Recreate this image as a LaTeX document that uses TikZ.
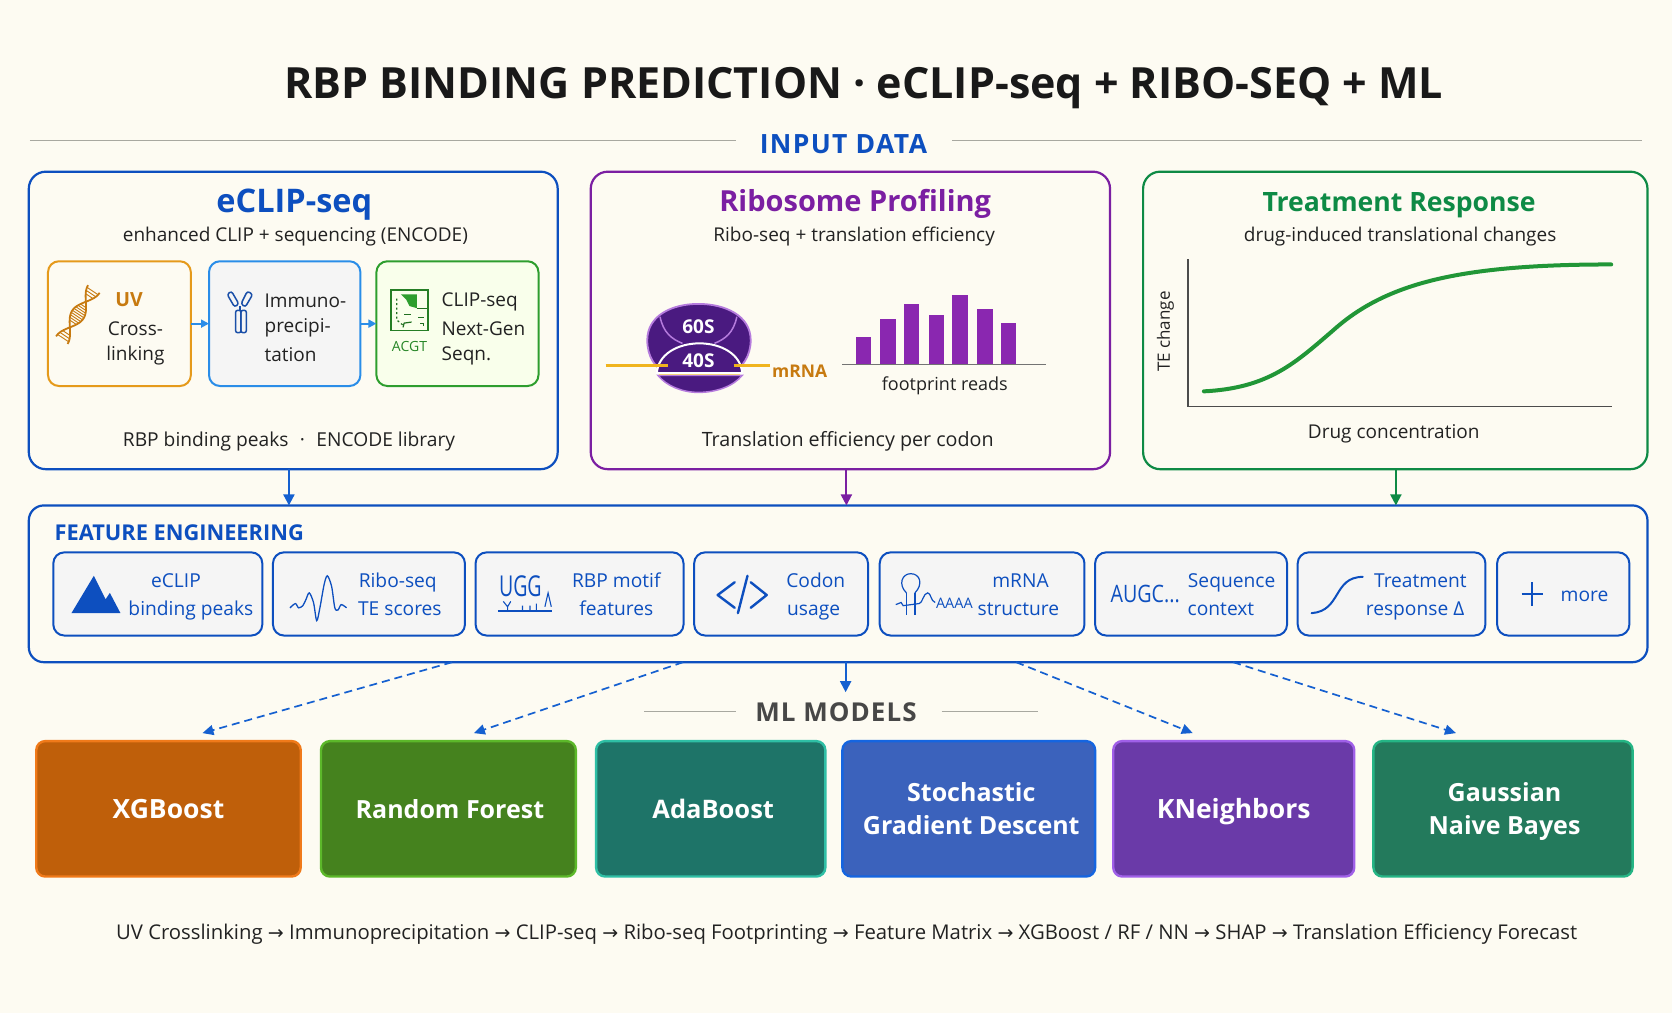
\documentclass[tikz,border=0pt]{standalone}
\usepackage{fontspec}
\setmainfont{Open Sans}
\newfontfamily\djv{DejaVu Sans}
\usetikzlibrary{arrows.meta,calc}
\definecolor{bg}{HTML}{FDFBF2}
\definecolor{ink}{HTML}{222222}
\definecolor{rule}{HTML}{A8A8A0}
\definecolor{blu}{HTML}{0D4FBF}
\definecolor{dblu}{HTML}{1560D0}
\definecolor{lblu}{HTML}{2A8DE8}
\definecolor{pur}{HTML}{7B1FA2}
\definecolor{bar}{HTML}{8A27B0}
\definecolor{dpur}{HTML}{4A1A80}
\definecolor{lpur}{HTML}{B57BDD}
\definecolor{grn}{HTML}{0E8A45}
\definecolor{org}{HTML}{C77A10}
\definecolor{uvb}{HTML}{E59A1B}
\definecolor{gold}{HTML}{F0B41E}
\definecolor{lgrn}{HTML}{2E9E2E}
\newcommand\fs[1]{\fontsize{#1}{#1}\selectfont}
\newcommand\bx[7]{%
  \pgfmathsetmacro\bxw{(#5-#3)*1.0663}%
  \pgfmathsetmacro\bxh{(#6-#4)*1.0663}%
  \node[#2,minimum width=\bxw pt,minimum height=\bxh pt,inner sep=0pt,outer sep=0pt,align=center] (#1) at ({(#3+#5)/2},{(#4+#6)/2}) {#7};}
\tikzset{
  panel/.style={draw=#1,line width=2.2pt,rounded corners=17pt,fill=bg},
  inner/.style={line width=2pt,rounded corners=11pt},
  chip/.style={draw=blu,line width=2pt,rounded corners=11pt,fill=black!4!white},
  model/.style={line width=2.4pt,rounded corners=9pt,text=white,font=\fs{25.5}\bfseries},
  txt/.style={font=\fs{19},text=ink,inner sep=0pt,align=center},
  ctxt/.style={font=\fs{19.2},text=blu,inner sep=0pt,align=center},
  flow/.style={line width=2pt,-{Triangle[length=11pt,width=11pt]}},
  dash flow/.style={line width=1.7pt,draw=dblu,dash pattern=on 8pt off 5pt,-{Triangle[length=11pt,width=10pt]}},
  icon/.style={line width=1.6pt,line cap=round,line join=round},
}
\begin{document}
\begin{tikzpicture}[x=1.0663pt,y=-1.0663pt]
\useasboundingbox (0,0) rectangle (1568,950);
\fill[bg] (0,0) rectangle (1568,950);
% title
\node[font=\fs{43}\bfseries,text=black!90,inner sep=0pt] (title) at (810,83) {RBP BINDING PREDICTION · eCLIP-seq + RIBO-SEQ + ML};
\node[font=\fs{26.5}\bfseries\addfontfeature{LetterSpace=5},text=blu,inner sep=0pt] (inp) at (791,135) {INPUT DATA};
\coordinate (rl1) at (28,132); \coordinate (rr1) at (1540,132); \coordinate (rl2) at (690,132); \coordinate (rr2) at (893,132);
\draw[rule,line width=1.3pt] (rl1) -- (rl2);
\draw[rule,line width=1.3pt] (rr2) -- (rr1);
% panels
\bx{ecl}{panel=blu}{27}{161}{523}{440}{}
\bx{rib}{panel=pur}{554}{161}{1041}{440}{}
\bx{trt}{panel=grn}{1072}{161}{1545}{440}{}
\node[font=\fs{32.5}\bfseries,inner sep=0pt,text=blu] (ecltitle) at (276,192) {eCLIP-seq};
\node[txt] (eclsub) at (277,222) {enhanced CLIP + sequencing (ENCODE)};
\node[font=\fs{29}\bfseries,inner sep=0pt,text=pur] (ribtitle) at (802,191) {Ribosome Profiling};
\node[txt] (ribsub) at (801,222) {Ribo-seq + translation efficiency};
\node[font=\fs{26.6}\bfseries,inner sep=0pt,text=grn] (trttitle) at (1312,192) {Treatment Response};
\node[txt] (trtsub) at (1313,222) {drug-induced translational changes};
% inner eCLIP
\bx{uv}{inner,draw=uvb,fill=bg}{45}{245}{179}{362}{}
\bx{ip}{inner,draw=lblu,fill=black!4!white}{196}{245}{338}{362}{}
\bx{cs}{inner,draw=lgrn,fill=green!30!yellow!8!white}{353}{245}{505}{362}{}
\draw[flow,lblu,line width=1.8pt,-{Triangle[length=8pt,width=8pt]}] (uv.east) -- (ip.west);
\draw[flow,lblu,line width=1.8pt,-{Triangle[length=8pt,width=8pt]}] (ip.east) -- (cs.west);
\node[font=\fs{19.5}\bfseries,text=org,inner sep=0pt] (uvt) at (121,281) {UV};
\node[txt] (uvb) at (127,308) {Cross-};
\node[txt] (uvc) at (127,333) {linking};
\node[txt,anchor=west] (ip1) at (248,282) {Immuno-};
\node[txt,anchor=west] (ip2) at (248,307) {precipi-};
\node[txt,anchor=west] (ip3) at (248,333) {tation};
\node[txt,anchor=west] (cs1) at (414,283) {CLIP-seq};
\node[txt,anchor=west] (cs2) at (414,308) {Next-Gen};
\node[txt,anchor=west] (cs3) at (414,334) {Seqn.};
\node[font=\fs{14},text=lgrn!85!black,inner sep=0pt] (acgt) at (384,325) {ACGT};
% DNA icon
\draw[org,line width=1.8pt,smooth] plot[domain=-1:1,samples=40] ({73+15*\x+6.5*cos(\x*180)*0.83},{295-24*\x+6.5*cos(\x*180)*0.55});
\draw[org,line width=1.8pt,smooth] plot[domain=-1:1,samples=40] ({73+15*\x-6.5*cos(\x*180)*0.83},{295-24*\x-6.5*cos(\x*180)*0.55});
\foreach \t in {-0.92,-0.82,-0.72,-0.3,-0.22,-0.14,-0.06,0.02,0.1,0.18,0.26,0.34,0.72,0.82,0.92}
  \draw[org,line width=0.9pt] ({73+15*\t+6.5*cos(\t*180)*0.83},{295-24*\t+6.5*cos(\t*180)*0.55}) -- ({73+15*\t-6.5*cos(\t*180)*0.83},{295-24*\t-6.5*cos(\t*180)*0.55});
% antibody icon
\definecolor{abc}{HTML}{1A4FA8}
\draw[abc,line width=1.5pt,rounded corners=2.5pt] (213,276) -- (217,273) -- (224,285) -- (220,288) -- cycle;
\draw[abc,line width=1.5pt,rounded corners=2.5pt] (232,273) -- (237,276) -- (230,288) -- (226,285) -- cycle;
\draw[abc,line width=1.5pt,rounded corners=2pt] (221,291) rectangle (226,312);
\draw[abc,line width=1.5pt,rounded corners=2pt] (226,291) rectangle (231,312);
\draw[abc,line width=1.5pt] (225,287) -- (225,291);
% chip icon
\draw[lgrn!80!black,line width=1.8pt] (367,272) rectangle (401,310);
\fill[lgrn] (376,276) -- (391,276) -- (391,289) -- (384,287) -- (381,281) -- cycle;
\draw[lgrn!70!black,line width=1.2pt] (391,289) -- (400,289);
\draw[lgrn!70!black,line width=1.2pt,dash pattern=on 2pt off 2.5pt] (372,280) -- (372,300) -- (378,305);
\draw[lgrn!70!black,line width=1.2pt] (386,302) -- (379,303) -- (378,307);
\draw[lgrn!70!black,line width=1.2pt] (392,298) -- (398,298) (394,303) -- (397,303) -- (397,306) (379,295) -- (385,295);
% ribosome
\fill[dpur,draw=lpur,line width=1.8pt] (607,319) .. controls (607,296) and (630,285) .. (655,285) .. controls (680,285) and (704,296) .. (704,319) .. controls (704,334) and (696,345) .. (686,350) -- (625,350) .. controls (614,345) and (607,334) .. (607,319) -- cycle;
\draw[lpur,line width=1.5pt] (619,297) .. controls (622,312) and (630,318) .. (640,322);
\draw[lpur,line width=1.5pt] (691,297) .. controls (688,312) and (680,318) .. (670,322);
\fill[dpur,draw=lpur,line width=1.5pt] (617,352) .. controls (625,362) and (640,368) .. (655,368) .. controls (672,368) and (688,362) .. (696,352) -- cycle;
\fill[dpur,draw=white,line width=2pt] (616,350) .. controls (617,332) and (636,322) .. (656,322) .. controls (676,322) and (695,332) .. (696,350) -- cycle;
\draw[gold!60!white,line width=1.4pt] (618,351) -- (694,351);
\coordinate (m1) at (568,342.7); \coordinate (m2) at (626,342.7); \coordinate (m3) at (688,342.7); \coordinate (m4) at (722,342.7);
\draw[gold,line width=3.4pt] (m1) -- (m2);
\draw[gold,line width=3.4pt] (m3) -- (m4);
\node[font=\fs{19}\bfseries,text=white,inner sep=0pt] (s60) at (655,306) {60S};
\node[font=\fs{19}\bfseries,text=white,inner sep=0pt] (s40) at (655,338) {40S};
\node[font=\fs{17.5}\bfseries,text=org,inner sep=0pt] (mrna) at (750,348) {mRNA};
% bars
\foreach \a/\b/\t in {803/817/316,825/840/299,848/862/285,871/885/295,893/908/277,916/931/290,939/953/303}
  \fill[bar] (\a,\t) rectangle (\b,342);
\draw[black!55,line width=1.4pt] (790,342) -- (981,342);
\node[txt,font=\fs{18}] (fpr) at (886,362) {footprint reads};
\node[txt,font=\fs{19.7}] (tepc) at (795,414) {Translation efficiency per codon};
\node[txt,font=\fs{19.2}] (peaks) at (271,414) {RBP binding peaks\,\, ·\,\, ENCODE library};
% treatment plot
\draw[black!70,line width=1.4pt] (1114,243) -- (1114,381) -- (1512,381);
\draw[line width=4pt,line cap=round,draw=lgrn!60!grn] (1129,367) .. controls (1190,364) and (1215,340) .. (1250,310) .. controls (1300,265) and (1370,248) .. (1511,248);
\node[txt,rotate=90,font=\fs{17}] (tey) at (1093,311) {TE change};
\node[txt] (drug) at (1307,407) {Drug concentration};
% feature engineering
\bx{feat}{draw=blu,line width=2.2pt,rounded corners=15pt,fill=bg}{27}{474}{1545}{621}{}
\node[font=\fs{21.8}\bfseries,text=blu,inner sep=0pt,anchor=west] (ft) at (51,500) {FEATURE ENGINEERING};
\draw[flow,dblu] ([xshift=-4.3pt]ecl.south) -- ([xshift=-4.3pt]ecl.south |- feat.north);
\draw[flow,pur] ([xshift=-4pt]rib.south) -- ([xshift=-4pt]rib.south |- feat.north);
\draw[flow,grn] ([xshift=0.6pt]trt.south) -- ([xshift=0.6pt]trt.south |- feat.north);
\bx{c1}{chip}{50}{518}{246}{596}{}
\bx{c2}{chip}{256}{518}{436}{596}{}
\bx{c3}{chip}{446}{518}{641}{596}{}
\bx{c4}{chip}{651}{518}{814}{596}{}
\bx{c5}{chip}{825}{518}{1017}{596}{}
\bx{c6}{chip}{1027}{518}{1207}{596}{}
\bx{c7}{chip}{1217}{518}{1393}{596}{}
\bx{c8}{chip}{1404}{518}{1528}{596}{}
\tikzset{la/.style={ctxt,anchor=base},lb/.style={ctxt,anchor=base}}
\node[la] (t1a) at (165,551) {eCLIP};
\node[lb] (t1b) at (179,577) {binding peaks};
\node[la] (t2a) at (373,551) {Ribo-seq};
\node[lb] (t2b) at (375,577) {TE scores};
\node[la] (t3a) at (578,551) {RBP motif};
\node[lb] (t3b) at (578,577) {features};
\node[la] (t4a) at (765,551) {Codon};
\node[lb] (t4b) at (763,577) {usage};
\node[la] (t5a) at (957,551) {mRNA};
\node[lb] (t5b) at (955,577) {structure};
\node[la] (t6a) at (1155,551) {Sequence};
\node[lb] (t6b) at (1145,577) {context};
\node[la] (t7a) at (1332,551) {Treatment};
\node[lb] (t7b) at (1327,577) {response Δ};
\node[la] (t8) at (1486,564) {more};
% chip icons
\fill[blu] (67,575) -- (88,540) -- (99,562) -- (103,556) -- (113,575) -- cycle;
\draw[blu,line width=1.3pt,smooth] plot coordinates {(272,570)(277,566)(280,570)(284,568)(287,562)(290,556)(294,565)(297,582)(300,570)(304,548)(307,540)(311,550)(314,570)(317,572)(320,567)(325,570)};
\node[font=\fs{23},text=blu,inner sep=0pt,xscale=0.85,yscale=1.25] (ugg) at (488,550) {UGG};
\draw[blu,line width=1.4pt] (467,573) -- (518,573);
\draw[blu,line width=1.1pt] (511,569) -- (514,556) -- (517,569);
\draw[blu,line width=1.1pt] (472,564) -- (476,569) -- (479,564) (476,569) -- (476,572) (490,568) -- (490,572) (497,568) -- (497,572) (503,566) -- (503,572);
\draw[blu,icon,line width=2.4pt] (689,546) -- (673,558) -- (689,570) (704,546) -- (719,558) -- (704,570) (701,540) -- (692,575);
\draw[blu,line width=1.2pt] (850,556) .. controls (842,548) and (846,538) .. (854,538) .. controls (863,538) and (866,548) .. (858,556);
\draw[blu,line width=1.2pt] (850,556) -- (850,577) (858,556) -- (858,577);
\draw[blu,line width=1.2pt] (840,567) -- (845,565) -- (847,568) -- (862,566) .. controls (865,566) and (866,556) .. (870,556) .. controls (873,556) and (873,564) .. (877,565);
\node[font=\fs{14.5},text=blu,inner sep=0pt] (aaaa) at (895,566) {AAAA};
\node[font=\fs{24},text=blu,inner sep=0pt,xscale=0.82] (augc) at (1074,557) {AUGC...};
\draw[blu,line width=2pt,line cap=round] (1230,575) .. controls (1258,573) and (1250,541) .. (1278,541);
\draw[blu,line width=2.2pt] (1437,546) -- (1437,568) (1427,557) -- (1447,557);
% ML models
\node[font=\fs{26}\bfseries\addfontfeature{LetterSpace=4},text=black!72,inner sep=0pt] (mlm) at (784,668) {ML MODELS};
\draw[rule,line width=1.3pt] (604,667) -- (690,667);
\draw[rule,line width=1.3pt] (883,667) -- (973,667);
\definecolor{c1a}{HTML}{BF5F0A}\definecolor{c1b}{HTML}{F07A1A}
\bx{m1}{model,draw=c1b,fill=c1a,font=\fs{26.5}\bfseries}{34}{695}{282}{822}{XGBoost}
\definecolor{c2a}{HTML}{45821E}\definecolor{c2b}{HTML}{5CB82A}
\bx{m2}{model,draw=c2b,fill=c2a,font=\fs{25}\bfseries}{301}{695}{540}{822}{\hspace*{3pt}Random Forest}
\definecolor{c3a}{HTML}{1E7468}\definecolor{c3b}{HTML}{2FBFA5}
\bx{m3}{model,draw=c3b,fill=c3a}{559}{695}{774}{822}{\hspace*{5pt}AdaBoost}
\definecolor{c4a}{HTML}{3B62BC}\definecolor{c4b}{HTML}{1565E0}
\bx{m4}{model,draw=c4b,fill=c4a,font=\fs{25}\bfseries}{790}{695}{1027}{822}{\hspace*{5pt}Stochastic\\[8pt]\hspace*{5pt}Gradient Descent}
\definecolor{c5a}{HTML}{6A3AA8}\definecolor{c5b}{HTML}{A060E8}
\bx{m5}{model,draw=c5b,fill=c5a,font=\fs{26.5}\bfseries}{1044}{695}{1270}{822}{\raisebox{0pt}[\height][0pt]{KNeighbors}}
\definecolor{c6a}{HTML}{237A5C}\definecolor{c6b}{HTML}{25B585}
\bx{m6}{model,draw=c6b,fill=c6a,font=\fs{25}\bfseries}{1288}{695}{1531}{822}{\hspace*{3pt}Gaussian\\[8pt]\hspace*{3pt}\raisebox{0pt}[\height][0pt]{Naive Bayes}}
% feature to models
\draw[dash flow] ([xshift=-386pt]feat.south) -- ([shift={(34pt,8pt)}]m1.north);
\draw[dash flow] ([xshift=-155pt]feat.south) -- ([shift={(25.5pt,8pt)}]m2.north);
\draw[flow,dblu] ([xshift=7.5pt]feat.south) -- ([xshift=7.5pt,yshift=-30pt]feat.south);
\draw[dash flow] ([xshift=178pt]feat.south) -- ([shift={(-41pt,8pt)}]m5.north);
\draw[dash flow] ([xshift=395pt]feat.south) -- ([shift={(-47pt,8pt)}]m6.north);
% bottom
\node[txt,font=\fs{20.3}] (bot) at (794,876) {UV Crosslinking {\djv\fs{19}→} Immunoprecipitation {\djv\fs{19}→} CLIP-seq {\djv\fs{19}→} Ribo-seq Footprinting {\djv\fs{19}→} Feature Matrix {\djv\fs{19}→} XGBoost / RF / NN {\djv\fs{19}→} SHAP {\djv\fs{19}→} Translation Efficiency Forecast};
\end{tikzpicture}
\end{document}
